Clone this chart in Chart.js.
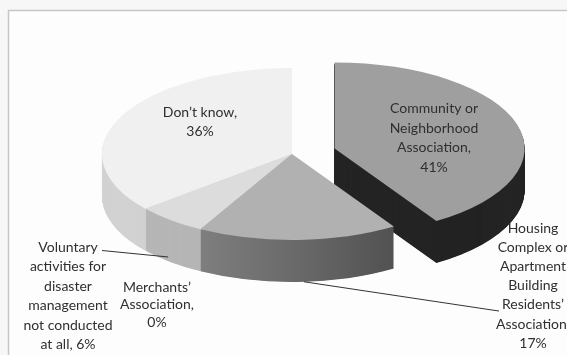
<!DOCTYPE html>
<html><head><meta charset="utf-8">
<script src="https://cdn.jsdelivr.net/npm/chart.js@4.4.1/dist/chart.umd.min.js"></script>
<style>
html,body{margin:0;padding:0;background:#f7f7f7;}
#wrap{position:relative;width:567px;height:355px;}
</style></head><body>
<div id="wrap"><canvas id="c" width="567" height="355"></canvas></div>
<script>
// ---- data ----
const categories = [
  "Community or Neighborhood Association",
  "Housing Complex or Apartment Building Residents’ Association",
  "Merchants’ Association",
  "Voluntary activities for disaster management not conducted at all",
  "Don’t know"
];
const values = [41, 17, 0, 6, 36];
const nameLines = [
  ["Community or", "Neighborhood", "Association,"],
  ["Housing", "Complex or", "Apartment", "Building", "Residents’", "Association,"],
  ["Merchants’", "Association,"],
  ["Voluntary", "activities for", "disaster", "management", "not conducted"],
  ["Don’t know,"]
];

// ---- styles ----
const topColors  = ['#9f9f9f', '#b1b1b1', '#cfcfcf', '#dcdcdc', '#f0f0f0'];
const sideColors = ['#242424', 'GRAD', '#b0b0b0', '#b6b6b6', '#d2d2d2'];

// label layout (text placement only)
const labelLayout = [
  {x: 434, y: 108.5, lh: 19.7},
  {x: 533, y: 228, lh: 19.2},
  {x: 157, y: 287, lh: 17.5},
  {x: 68,  y: 247, lh: 19.5},
  {x: 200, y: 112, lh: 19}
];

function labelText(i) {
  const lines = nameLines[i].slice();
  if (i === 3) lines.push('at all, ' + values[i] + '%');
  else lines.push(values[i] + '%');
  return lines;
}

const pie3d = {
  id: 'pie3d',
  beforeDraw(chart) {
    const ctx = chart.ctx;
    ctx.save();
    ctx.fillStyle = '#f7f7f7';
    ctx.fillRect(0, 0, chart.width, chart.height);
    ctx.fillStyle = '#fdfdfd';
    ctx.fillRect(9, 11, chart.width, chart.height);
    ctx.strokeStyle = '#c6c6c6';
    ctx.lineWidth = 1.5;
    ctx.strokeRect(8.5, 10.5, chart.width + 20, chart.height + 20);
    ctx.restore();
  },
  beforeDatasetsDraw(chart, args, opts) {
    const ctx = chart.ctx;
    const arcs = chart.getDatasetMeta(0).data;
    const a0 = arcs[0];
    const cx = a0.x, cy = a0.y, R = a0.outerRadius;
    const sx = opts.stretch, sy = opts.tilt;
    const setT = (i, dy) => {
      ctx.translate(0, dy);
      ctx.translate(cx, cy); ctx.scale(sx, sy); ctx.translate(-cx, -cy);
      const e = (opts.explode[i] || 0);
      if (e) {
        const mid = (arcs[i].startAngle + arcs[i].endAngle) / 2;
        ctx.translate(Math.cos(mid) * e, Math.sin(mid) * e);
      }
    };
    const drawArc = (i, color) => {
      const arc = arcs[i];
      const tmp = Object.create(arc);
      tmp.options = Object.assign({}, arc.options, {backgroundColor: color, borderWidth: 0, offset: 0});
      tmp.draw(ctx);
    };
    const grad = ctx.createLinearGradient(cx - 0.6 * R, 0, cx + 0.7 * R, 0);
    grad.addColorStop(0, '#838383');
    grad.addColorStop(0.5, '#686868');
    grad.addColorStop(1, '#4a4a4a');
    const order = opts.drawOrder;
    for (const i of order) {
      if (!values[i]) continue;
      const col = sideColors[i] === 'GRAD' ? grad : sideColors[i];
      for (let d = opts.depth; d >= 1; d -= 0.5) {
        ctx.save(); setT(i, d); drawArc(i, col); ctx.restore();
      }
    }
    for (const i of order) {
      if (!values[i]) continue;
      ctx.save(); setT(i, 0); drawArc(i, topColors[i]); ctx.restore();
    }
    chart.$proj = (i, frac, r, depthFrac) => {
      const arc = arcs[i];
      const ang = arc.startAngle + (arc.endAngle - arc.startAngle) * frac;
      const e = opts.explode[i] || 0;
      const mid = (arc.startAngle + arc.endAngle) / 2;
      const nx = cx + Math.cos(mid) * e + Math.cos(ang) * R * r;
      const ny = cy + Math.sin(mid) * e + Math.sin(ang) * R * r;
      return {x: cx + (nx - cx) * sx, y: cy + (ny - cy) * sy + opts.depth * depthFrac};
    };
    return false;
  },
  afterDraw(chart, args, opts) {
    const ctx = chart.ctx;
    ctx.save();
    ctx.strokeStyle = '#333333';
    ctx.lineWidth = 1;
    if (chart.$proj) {
      const pv = chart.$proj(3, 0.55, 1, 0.9);
      ctx.beginPath(); ctx.moveTo(102, 250.5); ctx.lineTo(pv.x, pv.y); ctx.stroke();
      const ph = chart.$proj(1, 0.47, 1, 1);
      ctx.beginPath(); ctx.moveTo(ph.x, ph.y); ctx.lineTo(492, 310); ctx.lineTo(499, 311); ctx.stroke();
    }
    ctx.fillStyle = '#2f2f2f';
    ctx.font = '14px Lato';
    ctx.textAlign = 'center';
    ctx.textBaseline = 'middle';
    labelLayout.forEach((L, i) => {
      labelText(i).forEach((t, k) => ctx.fillText(t, L.x, L.y + k * L.lh));
    });
    ctx.restore();
  }
};

new Chart(document.getElementById('c'), {
  type: 'pie',
  data: {
    labels: categories,
    datasets: [{
      data: values,
      backgroundColor: topColors,
      borderWidth: 0,
      hoverOffset: 0,
      clip: false
    }]
  },
  options: {
    responsive: false,
    animation: false,
    events: [],
    layout: {padding: {left: 142, right: 125, top: 4, bottom: 51}},
    plugins: {
      legend: {display: false},
      tooltip: {enabled: false},
      pie3d: {stretch: 1.267, tilt: 0.573, depth: 42, explode: [35, 0, 0, 0, 0], drawOrder: [4, 0, 3, 2, 1]}
    }
  },
  plugins: [pie3d]
});
</script>
</body></html>
